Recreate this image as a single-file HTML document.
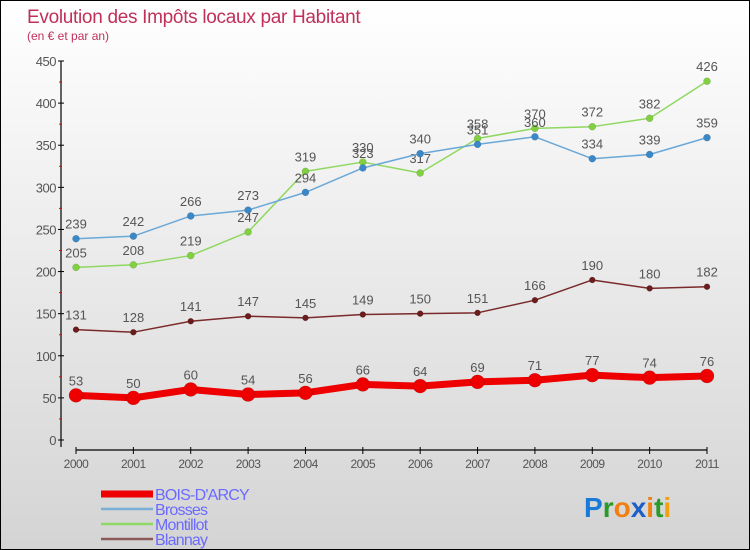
<!DOCTYPE html>
<html><head><meta charset="utf-8"><style>
body{margin:0}
#c{width:748px;height:548px;border:1px solid #000;background:linear-gradient(#fff,#d4d4d4);position:relative;font-family:"Liberation Sans",sans-serif;overflow:hidden}
</style></head><body>
<div id="c">
<svg id="s" width="748" height="548">
<text x="26" y="22" font-size="19" fill="#c0305a" letter-spacing="-0.3">Evolution des Impôts locaux par Habitant</text>
<text x="26" y="39" font-size="12" fill="#c0305a">(en € et par an)</text>
</svg>
</div>
<script>
const years=['2000','2001','2002','2003','2004','2005','2006','2007','2008','2009','2010','2011'];
const boisDArcy=[53,50,60,54,56,66,64,69,71,77,74,76];
const brosses=[239,242,266,273,294,323,340,351,360,334,339,359];
const montillot=[205,208,219,247,319,330,317,358,370,372,382,426];
const blannay=[131,128,141,147,145,149,150,151,166,190,180,182];
const yTicks=[0,50,100,150,200,250,300,350,400,450];
const NS='http://www.w3.org/2000/svg';
const s=document.getElementById('s');
function X(i){return 75+i*(706-75)/11;}
function Y(v){return 439-v*(379/450);}
function el(t,a,p){const e=document.createElementNS(NS,t);for(const k in a)e.setAttribute(k,a[k]);(p||s).appendChild(e);return e;}
let ax=el('line',{x1:60,y1:60,x2:60,y2:446,stroke:'#000','stroke-width':1.2});

let bx=el('line',{x1:75,y1:449,x2:706,y2:449,stroke:'#000','stroke-width':1.2});

yTicks.forEach((v,i)=>{
  el('line',{x1:57,y1:Y(v),x2:63,y2:Y(v),stroke:'#000'});
  if(i<yTicks.length-1)el('line',{x1:58,y1:Y(v+25),x2:61,y2:Y(v+25),stroke:'#e00'});
  const t=el('text',{x:55,y:Y(v)+5,'text-anchor':'end','font-size':13,fill:'#555','letter-spacing':'-0.5'});
  t.textContent=v;
  
});
years.forEach((y,i)=>{
  el('line',{x1:X(i),y1:446,x2:X(i),y2:453,stroke:'#000'});
  const t=el('text',{x:X(i),y:467,'text-anchor':'middle','font-size':12,fill:'#555','letter-spacing':'-0.5'});
  t.textContent=y;
  
});
function series(data,color,w,r,name,dot){
  const g=el('g',{});
  
  el('polyline',{points:data.map((v,i)=>X(i)+','+Y(v)).join(' '),fill:'none',stroke:color,'stroke-width':w,'stroke-linejoin':'round'},g);
  data.forEach((v,i)=>{
    const c=el('circle',{cx:X(i),cy:Y(v),r:r,fill:dot,stroke:'#0003','stroke-width':0.5},g);
    
    const t=el('text',{x:X(i),y:Y(v)-10,'text-anchor':'middle','font-size':13,fill:'#555'},g);
    t.textContent=v;
  });
}
series(blannay,'#7a2a2a',1.5,3,'blannay','#6b1c1c');
series(montillot,'#8fd860',1.5,3.5,'montillot','#80d040');
series(brosses,'#6aa8d8',1.5,3.5,'brosses','#3a88c8');
series(boisDArcy,'#ee0000',7,7,'bois-darcy','#ee0000');
const leg=[['BOIS-D\'ARCY','#ee0000',7],['Brosses','#7ab0d8',2.5],['Montillot','#90d868',2.5],['Blannay','#8a5a5a',2.5]];
leg.forEach((l,i)=>{
  const yy=[493,508,523,538][i];
  const g=el('g',{});
  
  el('line',{x1:100,y1:yy,x2:152,y2:yy,stroke:l[1],'stroke-width':l[2]},g);
  const t=el('text',{x:154,y:yy+6,'font-size':16,fill:'#6a6aff','letter-spacing':'-0.8'},g);
  t.textContent=l[0];
});
const lg=el('text',{x:583,y:516,'font-size':28,'font-weight':'bold'});

[['P','#1a7ad8'],['r','#2a9a2a'],['o','#f08010'],['x','#1a60c8'],['i','#f08010'],['t','#2a9a2a'],['i','#f0a010']].forEach(p=>{const ts=el('tspan',{fill:p[1]},lg);ts.textContent=p[0];});
</script>
</body></html>
